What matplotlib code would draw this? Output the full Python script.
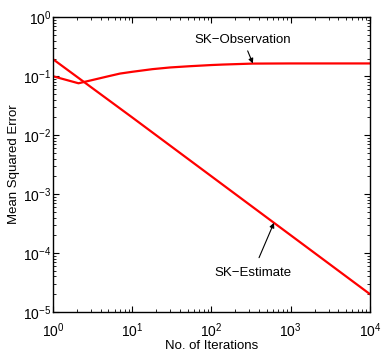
import numpy as np
import matplotlib
matplotlib.use("Agg")
import matplotlib.pyplot as plt

plt.rcParams['font.family'] = ['Liberation Sans', 'DejaVu Sans']

# SK-Observation curve
obs_x = [1, 2.1, 3, 5, 7, 10, 18, 30, 53, 100, 140, 330, 1000, 10000]
obs_y = [0.1, 0.076, 0.085, 0.1, 0.111, 0.119, 0.132, 0.141, 0.148, 0.155, 0.158, 0.164, 0.165, 0.165]

# SK-Estimate curve
est_x = [1, 10, 100, 615, 1000, 10000]
est_y = [0.195, 0.02, 0.002, 3.25e-4, 2e-4, 2e-5]

fig = plt.figure(figsize=(3.81, 3.54), dpi=100)
ax = fig.add_axes([0.139, 0.119, 0.832, 0.832])

ax.loglog(obs_x, obs_y, color='red', lw=1.6)
ax.loglog(est_x, est_y, color='red', lw=1.6)

ax.set_xlim(1, 1e4)
ax.set_ylim(1e-5, 1)
ax.set_xticks([1, 10, 100, 1000, 10000])
ax.set_yticks([1e-5, 1e-4, 1e-3, 1e-2, 1e-1, 1])
ax.tick_params(which='both', direction='in', top=True, right=True, labelsize=10)
ax.tick_params(which='major', length=4)
ax.tick_params(which='minor', length=2)
ax.tick_params(axis='x', which='major', pad=7)
ax.tick_params(axis='y', which='major', pad=1)
for s in ax.spines.values():
    s.set_linewidth(1.0)

ax.set_xlabel("No. of Iterations", fontsize=9.5, labelpad=0)
ax.set_ylabel("Mean Squared Error", fontsize=9.5)
ax.yaxis.set_label_coords(-0.104, 0.5)

ax.annotate("SK\u2212Observation", xy=(333, 0.165), xytext=(250, 0.42),
            ha='center', va='center', fontsize=9.5,
            arrowprops=dict(arrowstyle='-|>', color='black', lw=0.8,
                            mutation_scale=7, shrinkA=2, shrinkB=0))
ax.annotate("SK\u2212Estimate", xy=(615, 3.25e-4), xytext=(330, 4.6e-5),
            ha='center', va='center', fontsize=9.5,
            arrowprops=dict(arrowstyle='-|>', color='black', lw=0.8,
                            mutation_scale=7, shrinkA=5, shrinkB=0))

fig.savefig("out.png", dpi=100)
